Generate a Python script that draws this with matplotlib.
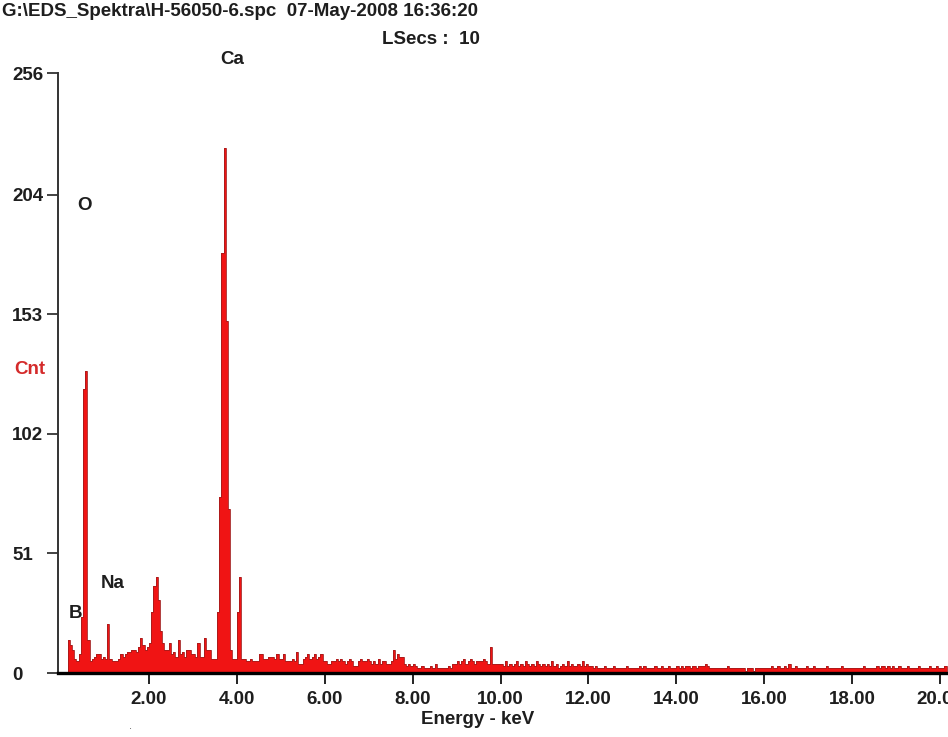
import matplotlib.pyplot as plt
import numpy as np

red = '#F01414'
dark_red = '#A31C1C'
ink = '#1E1E1E'

# channel width of the spectrum bins (keV)
bin_width = 0.05

# counts per 0.05 keV bin, one row per keV (0.00 .. 0.95, 1.00 .. 1.95, ...)
counts_0 = [0, 0, 0, 14, 12, 10, 6, 5, 8, 24, 121, 129, 14, 5, 6, 7, 8, 8, 6, 7]
counts_1 = [6, 21, 6, 5, 5, 5, 6, 8, 7, 8, 9, 9, 10, 10, 9, 11, 15, 12, 10, 11]
counts_2 = [13, 26, 37, 41, 31, 18, 13, 10, 10, 13, 8, 9, 7, 14, 8, 9, 7, 10, 10, 8]
counts_3 = [8, 7, 13, 7, 7, 15, 10, 10, 6, 6, 6, 26, 75, 179, 224, 150, 70, 10, 6, 6]
counts_4 = [26, 41, 6, 6, 5, 5, 6, 5, 5, 5, 8, 8, 6, 6, 7, 7, 7, 6, 8, 6]
counts_5 = [6, 8, 5, 5, 5, 6, 5, 9, 4, 4, 6, 7, 8, 6, 7, 8, 6, 7, 8, 5]
counts_6 = [5, 4, 4, 5, 5, 6, 5, 6, 5, 4, 5, 6, 5, 3, 3, 5, 6, 5, 5, 6]
counts_7 = [5, 4, 5, 4, 6, 4, 5, 5, 4, 4, 5, 10, 6, 8, 7, 7, 4, 3, 4, 3]
counts_8 = [4, 3, 2, 2, 3, 2, 2, 2, 3, 2, 4, 2, 2, 2, 2, 2, 3, 2, 4, 4]
counts_9 = [5, 4, 5, 6, 4, 5, 6, 5, 4, 5, 5, 5, 6, 5, 4, 11, 4, 4, 4, 4]
counts_10 = [4, 3, 5, 3, 4, 3, 4, 5, 3, 4, 3, 5, 4, 3, 4, 3, 5, 4, 3, 4]
counts_11 = [3, 4, 3, 5, 3, 4, 2, 3, 4, 3, 5, 3, 4, 3, 3, 4, 3, 5, 3, 4]
counts_12 = [3, 3, 2, 3, 2, 2, 2, 3, 2, 2, 2, 3, 2, 2, 2, 2, 2, 3, 2, 2]
counts_13 = [2, 2, 2, 3, 2, 3, 2, 2, 2, 2, 3, 2, 2, 3, 2, 2, 3, 2, 2, 2]
counts_14 = [3, 2, 3, 2, 3, 3, 2, 3, 3, 2, 3, 3, 3, 4, 3, 2, 2, 2, 2, 2]
counts_15 = [2, 2, 2, 3, 2, 2, 2, 2, 2, 2, 2, 1, 2, 2, 2, 1, 2, 2, 2, 2]
counts_16 = [2, 2, 2, 3, 2, 2, 3, 2, 2, 3, 2, 4, 2, 2, 3, 2, 2, 2, 2, 3]
counts_17 = [2, 2, 3, 2, 2, 2, 2, 2, 3, 2, 2, 2, 2, 2, 2, 3, 2, 2, 2, 2]
counts_18 = [2, 2, 2, 2, 2, 3, 2, 2, 2, 2, 2, 3, 2, 3, 3, 2, 3, 2, 3, 2]
counts_19 = [2, 3, 2, 2, 2, 3, 2, 2, 2, 2, 3, 2, 2, 2, 2, 3, 2, 2, 3, 2]
counts_20 = [2, 2, 3]

x_ticks = [2, 4, 6, 8, 10, 12, 14, 16, 18, 20]
x_ticklabels = ['2.00', '4.00', '6.00', '8.00', '10.00', '12.00', '14.00', '16.00', '18.00', '20.00']
y_ticks = [0, 51, 102, 153, 204, 256]
y_ticklabels = ['0', '51', '102', '153', '204', '256']

# element labels: (name, x px, y px)
peak_labels = [('Ca', 232, 60), ('O', 84, 205), ('Na', 113, 583), ('B', 76, 614)]

if __name__ == "__main__":
    plt.rcParams['font.family'] = ['Liberation Sans', 'DejaVu Sans']
    fs = 13.5

    W, H = 948, 737
    fig = plt.figure(figsize=(W / 100, H / 100), dpi=100)
    ax = fig.add_axes([58 / W, (H - 673) / H, 890 / W, 600 / H])

    counts = np.array(counts_0 + counts_1 + counts_2 + counts_3 + counts_4 + counts_5
                      + counts_6 + counts_7 + counts_8 + counts_9 + counts_10 + counts_11
                      + counts_12 + counts_13 + counts_14 + counts_15 + counts_16
                      + counts_17 + counts_18 + counts_19 + counts_20)
    edges = np.arange(len(counts) + 1) * bin_width

    ax.stairs(counts, edges, fill=True, color=red, linewidth=0)
    ax.stairs(counts, edges, color=dark_red, linewidth=0.6)

    ax.set_xlim(-0.07, 20.18)
    ax.set_ylim(0, 256)

    for s in ['top', 'right']:
        ax.spines[s].set_visible(False)
    ax.spines['left'].set_color('#333333')
    ax.spines['left'].set_linewidth(1.4)
    ax.spines['bottom'].set_color('black')
    ax.spines['bottom'].set_linewidth(2.4)
    ax.spines['bottom'].set_zorder(5)

    ax.set_xticks(x_ticks)
    ax.set_xticklabels(x_ticklabels, fontsize=fs, fontweight='bold', color=ink)
    ax.set_yticks(y_ticks)
    ax.set_yticklabels(y_ticklabels, fontsize=fs, fontweight='bold', color=ink)
    ax.tick_params(axis='x', direction='out', length=8, width=1.4, pad=5, color='#222222')
    ax.tick_params(axis='y', direction='out', length=8, width=1.2, pad=25, color='#222222')
    for lab in ax.get_yticklabels():
        lab.set_horizontalalignment('left')

    # header text
    fig.text(2 / W, 1 - 12 / H, 'G:\\EDS_Spektra\\H-56050-6.spc  07-May-2008 16:36:20',
             fontsize=fs, fontweight='bold', color=ink, ha='left', va='center')
    fig.text(480 / W, 1 - 40 / H, 'LSecs :  10', fontsize=fs, fontweight='bold',
             color=ink, ha='right', va='center')

    for name, px, py in peak_labels:
        fig.text(px / W, 1 - py / H, name, fontsize=fs, fontweight='bold', color=ink,
                 ha='center', va='center')

    fig.text(30 / W, 1 - 369 / H, 'Cnt', fontsize=fs, fontweight='bold', color='#D42A2A',
             ha='center', va='center')
    fig.text(478 / W, 1 - 720 / H, 'Energy - keV', fontsize=fs, fontweight='bold', color=ink,
             ha='center', va='center')
    fig.text(130 / W, 1 - 726 / H, '.', fontsize=8, color='#555555', ha='center', va='center')

    plt.savefig('out.png', dpi=100)
